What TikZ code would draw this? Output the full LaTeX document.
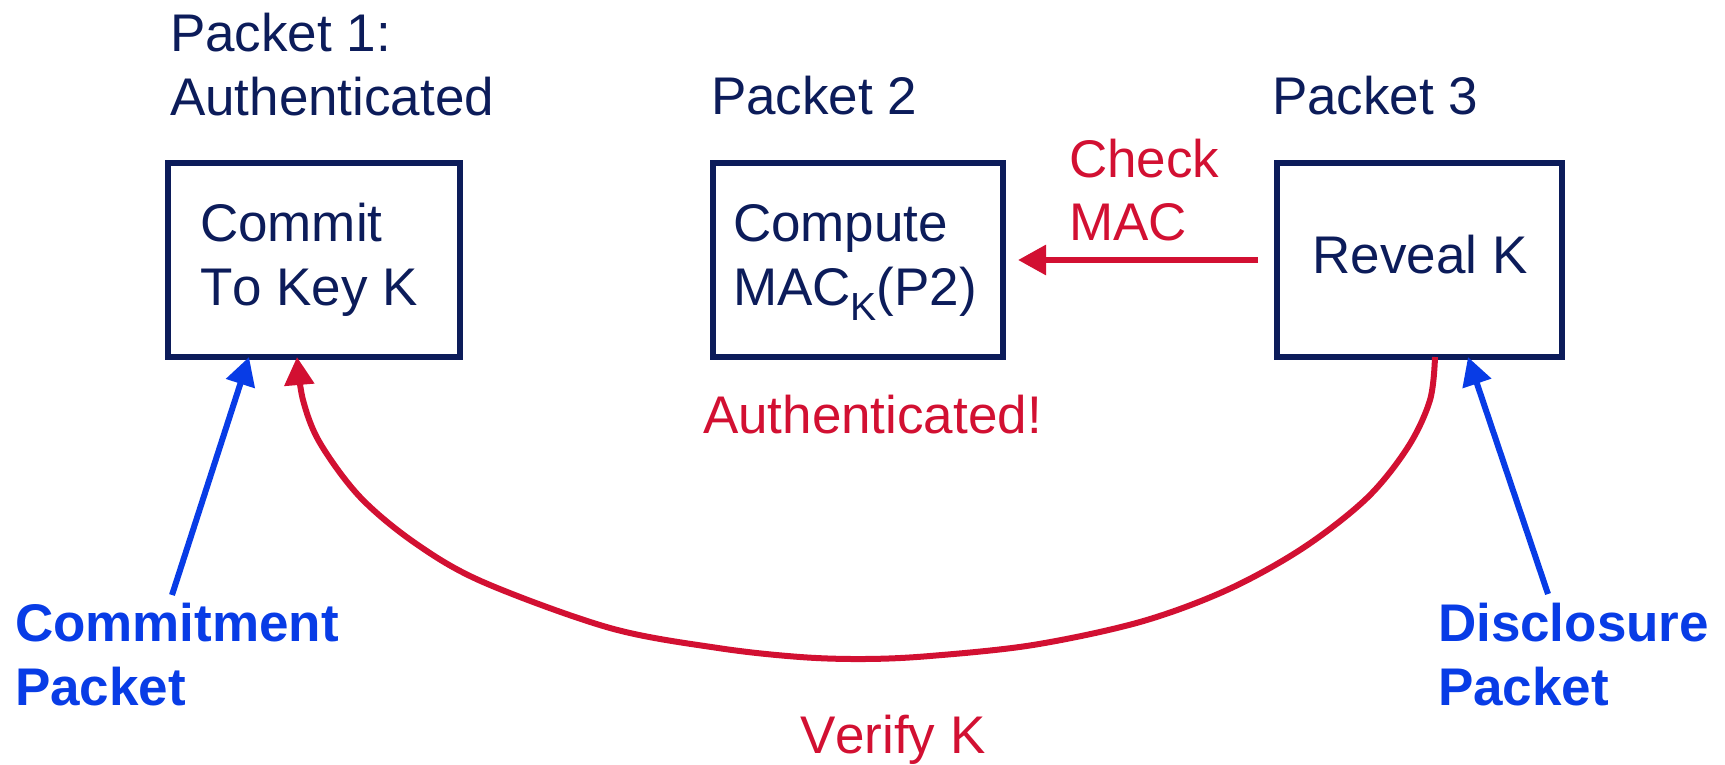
\documentclass[tikz,border=0pt]{standalone}
\usepackage{fontspec}
\setmainfont{Liberation Sans}[Kerning=Off]
\usetikzlibrary{arrows.meta,calc}
\definecolor{navy}{RGB}{12,28,90}
\definecolor{tred}{RGB}{210,16,50}
\definecolor{tblue}{RGB}{8,60,230}
\newcommand{\twoln}[2]{\vtop{\hbox{#1}\hbox{#2}}}
\begin{document}
\begin{tikzpicture}[x=0.5pt,y=-0.5pt,
  box/.style={draw=navy,line width=2.8pt,minimum height=97pt,inner sep=0pt,outer sep=0pt},
  txt/.style={inner sep=0pt,outer sep=0pt,text=navy,font=\fontsize{26.5}{32}\selectfont},
  rtxt/.style={txt,text=tred},
  btxt/.style={txt,text=tblue,font=\fontsize{26.5}{32}\selectfont\bfseries},
  redarrow/.style={draw=tred,line width=3pt,-{Triangle[length=14pt,width=14.5pt]}},
  bluearrow/.style={draw=tblue,line width=3pt,-{Triangle[length=14pt,width=14.5pt]}}]
\useasboundingbox (0,0) rectangle (1725,765);
% boxes
\node[box,minimum width=146pt] (b1) at (314,260) {};
\node[box,minimum width=145pt] (b2) at (858,260) {};
\node[box,minimum width=142.5pt] (b3) at (1419.5,260) {};
% titles
\node[txt,anchor=base west] (t1) at (170,52) {\twoln{Packet 1:}{Authenticated}};
\node[txt,anchor=base west] (t2) at (711,115) {Packet 2};
\node[txt,anchor=base west] (t3) at (1272,115) {Packet 3};
% box texts
\node[txt,anchor=base west] (c1) at (200,242) {\twoln{Commit}{To Key K}};
\node[txt,anchor=base west] (c2) at (733,242) {\twoln{Compute}{MAC\raisebox{-7.5pt}{\fontsize{19.6}{20}\selectfont K}(P2)}};
\node[txt,anchor=base] (c3) at (1420,273) {Reveal K};
% red labels
\node[rtxt,anchor=base west] (chk) at (1069,177) {\twoln{Check}{MAC}};
\node[rtxt,anchor=base west] (auth) at (703,433) {Authenticated!};
\node[rtxt,anchor=base west] (ver) at (800,753) {Verify K};
% blue labels
\node[btxt,anchor=base west] (cp) at (15,641) {\twoln{Commitment}{Packet}};
\node[btxt,anchor=base west] (dp) at (1438,641) {\twoln{Disclosure}{Packet}};
% connectors
\coordinate (cpe) at (172,595);
\coordinate (dpe) at (1548,594);
\coordinate (vs) at ($(b3.south west)+(158,0)$);
\coordinate (ve) at ($(b1.south west)+(129,0)$);
\draw[bluearrow] (cpe) -- ($(b1.south west)+(81,0)$);
\draw[bluearrow] (dpe) -- ($(b3.south west)+(191,0)$);
\draw[redarrow,shorten <=9.5pt,shorten >=7.5pt] (b3.west) -- (b2.east);
\draw[redarrow] plot[smooth,tension=0.55] coordinates {(vs) (1430,400) (1408,447) (1367,498) (1303,548) (1227,590) (1140,622) (1033,645) (930,656) (865,659) (800,657) (718,648) (610,628) (483,582) (415,543) (360,497) (320,443) (303,400) (ve)};
\end{tikzpicture}
\end{document}
